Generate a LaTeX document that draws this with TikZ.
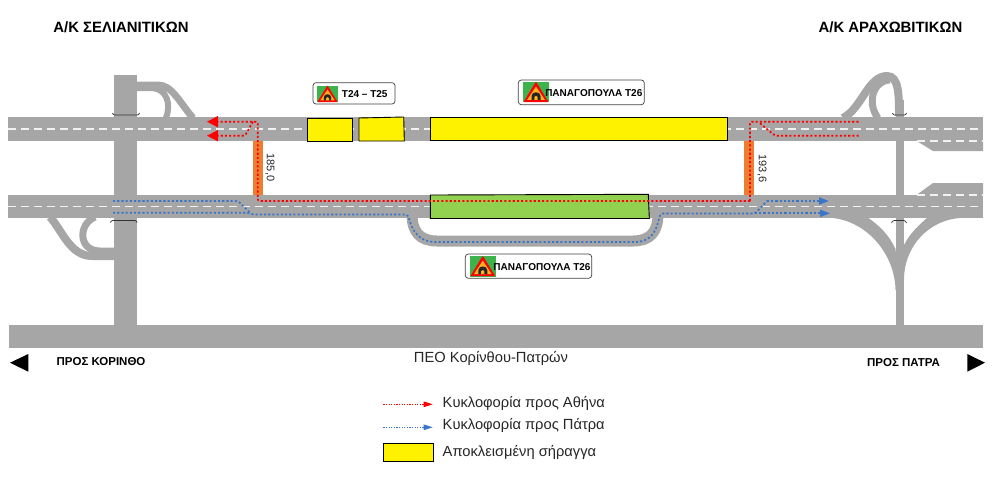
\documentclass[tikz,border=0pt]{standalone}
\usepackage{fontspec}
\setmainfont{Liberation Sans}
\usepackage{xcolor}
\usetikzlibrary{arrows.meta,calc,positioning}
\definecolor{roadgray}{HTML}{A6A6A6}
\definecolor{laneoff}{HTML}{F2F2F2}
\definecolor{closedgreen}{HTML}{92D050}
\definecolor{signgreen}{HTML}{3CB44B}
\definecolor{signamber}{HTML}{FFB020}
\definecolor{crossorange}{HTML}{ED7D31}
\definecolor{routered}{HTML}{FF0000}
\definecolor{routeblue}{HTML}{3A75C8}
\tikzset{
  lanemark/.style={draw=laneoff,line width=1.2pt,dash pattern=on 8pt off 5pt},
  ramp/.style={draw=roadgray,line cap=butt},
  bracket/.style={draw=black!80,line width=0.7pt,rounded corners=1pt},
  closedbox/.style={draw=black,line width=0.9pt,fill=yellow},
  redroute/.style={draw=routered,line width=1.7pt,dash pattern=on 2.1pt off 2.1pt,rounded corners=2pt},
  blueroute/.style={draw=routeblue,line width=1.7pt,dash pattern=on 2.1pt off 2.1pt,rounded corners=2pt},
  redtip/.style={-{Triangle[length=11pt,width=11pt,fill=routered,color=routered]}},
  bluetip/.style={-{Triangle[length=10pt,width=7pt,fill=routeblue,color=routeblue]}},
  signbox/.style={draw=black!75,line width=0.7pt,rounded corners=3pt,fill=white},
  signtext/.style={font=\bfseries\fontsize{10}{11}\selectfont,inner sep=0pt},
  headtext/.style={font=\bfseries\fontsize{14.9}{16}\selectfont,inner sep=0pt},
  dirtext/.style={font=\bfseries\fontsize{11.5}{13}\selectfont,inner sep=0pt},
  plaintext/.style={font=\fontsize{14.7}{16}\selectfont,inner sep=0pt,text=black!85},
  chainage/.style={font=\fontsize{11}{13}\selectfont,inner sep=0pt,rotate=-90,text=black!85},
  tunnelsign/.pic={
    \fill[signgreen] (-12.8,-10.3) rectangle (12.8,10.3);
    \fill[routered,rounded corners=1pt] (0,-10.5)--(12.5,10)--(-12.5,10)--cycle;
    \fill[signamber] (0,-5.5)--(8.8,7.8)--(-8.8,7.8)--cycle;
    \fill[black!85] (-4.5,7.8)--(-4.5,4) .. controls (-4.5,-1) and (4.5,-1) .. (4.5,4)--(4.5,7.8)--cycle;
    \fill[signamber] (-1.6,7.8)--(-1.6,5) .. controls (-1.6,3.5) and (1.6,3.5) .. (1.6,5)--(1.6,7.8)--cycle;
  }
}
\begin{document}
\begin{tikzpicture}[x=1pt,y=-1pt,>=Stealth]
\useasboundingbox (0,0) rectangle (996,491);
% cross roads
\fill[roadgray] (114,75) rectangle (137,325);
\fill[roadgray] (895.5,100) rectangle (904,325);
% ramps, left
\draw[ramp,line width=7pt] (137,85)--(158,85) .. controls (172,85) and (180,103) .. (193,118);
\draw[ramp,line width=6pt] (137,88)--(150,88) .. controls (168,88) and (171,105) .. (166,118);
\draw[ramp,line width=8pt] (50,217) .. controls (62,230) and (70,256) .. (92,256)--(114,256);
\draw[ramp,line width=7pt] (95,217) .. controls (78,224) and (78,251) .. (100,251)--(114,251);
\fill[roadgray] (100,250) rectangle (114,258);
% ramps, right
\draw[ramp,line width=8pt] (843,118) .. controls (862,108) and (868,76) .. (887,76) .. controls (899,76) and (899,95) .. (899,116);
\draw[ramp,line width=7pt] (878,118) .. controls (866,102) and (874,80) .. (890,80);
\fill[roadgray] (833,218) .. controls (868,222) and (895,255) .. (895.5,290)--(899.7,290)--(895.5,249) .. controls (889,235) and (880,226) .. (867,217)--cycle;
\fill[roadgray] (960,218) .. controls (930,220) and (904,245) .. (904,280)--(899.7,280)--(904,245) .. controls (910,233) and (919,225) .. (928,217)--cycle;
% bypass
\draw[ramp,line width=11pt] (412,214) .. controls (412,232) and (420,241) .. (437,241)--(633,241) .. controls (650,241) and (658,232) .. (658,214);
% main roads
\fill[roadgray] (7.5,117) rectangle (983,141);
\fill[roadgray] (7.5,195) rectangle (983,218);
\fill[roadgray] (8.5,325) rectangle (983,348);
\fill[roadgray] (915,140)--(933,151)--(983,151)--(983,140)--cycle;
\fill[roadgray] (915,196)--(933,183)--(983,183)--(983,196)--cycle;
% lane marks
\draw[lanemark] (8,129)--(983,129);
\draw[lanemark] (8,206.5)--(983,206.5);
\draw[lanemark] (917,141)--(983,141);
\draw[lanemark] (917,195)--(983,195);
% brackets
\draw[bracket] (112.5,113)--(113.5,115)--(138.5,115)--(139.5,113);
\draw[bracket] (110.5,222.5)--(111.5,220.5)--(136,220.5)--(137,222.5);
\draw[bracket] (892.5,113)--(893.5,115)--(905.5,115)--(906.5,113);
\draw[bracket] (891.5,223)--(893,220.5)--(905,220.5)--(906.5,223);
% crossovers
\fill[crossorange] (253.3,141) rectangle (263.3,195);
\fill[crossorange] (744,141) rectangle (754.3,195);
% closed tunnels
\draw[closedbox] (307,118)--(352,118)--(352,141)--(307,141)--cycle;
\draw[closedbox] (359,118)--(403.7,117)--(404.3,141)--(359,141)--cycle;
\draw[closedbox] (430.3,117.5)--(727.5,117.5)--(727.5,140.7)--(430.3,140.7)--cycle;
\draw[draw=black,line width=0.9pt,fill=closedgreen] (430.3,195)--(648.3,194.3)--(649.3,218.5)--(430.3,218.5)--cycle;
% red route
\coordinate (redC) at (860,121.7); \coordinate (redD) at (860,135.7);
\draw[redroute,redtip] (750,201)--(257.7,201)--(257.7,121.7)--(207,121.7);
\draw[redroute,redtip] (253,121.7)--(245,135.7)--(207,135.7);
\draw[redroute] (750,201)--(750,121.7)--(redC);
\draw[redroute] (760,123.3)--(775,135.7)--(redD);
% blue route
\coordinate (blueA) at (113,201); \coordinate (blueB) at (113,212.7);
\draw[blueroute] (blueA)--(238,201)--(250,212.7);
\draw[blueroute] (blueB)--(248,212.7)--(252,214.5)--(408,214.5)
  .. controls (412,232) and (420,242) .. (437,242)--(633,242) .. controls (650,242) and (656,232) .. (659,218)--(661,213.5)--(755,213.5)--(767,201);
\draw[blueroute,bluetip] (767,201)--(829,201);
\draw[blueroute,bluetip] (755,213.3)--(830,213.3);
% signs
\draw[signbox] (313,82.7) rectangle (395,104);
\pic[scale=0.82] at (327.5,94) {tunnelsign};
\node[signtext] (signA) at (364.7,94) {T24 – T25};
\draw[signbox] (518.3,80) rectangle (644.3,104.7);
\pic at (536,92) {tunnelsign};
\node[signtext] (signB) at (593.8,93) {ΠΑΝΑΓΟΠΟΥΛΑ T26};
\draw[signbox] (465.3,254) rectangle (591.7,278.3);
\pic at (482.8,266.2) {tunnelsign};
\node[signtext] (signC) at (542,266.7) {ΠΑΝΑΓΟΠΟΥΛΑ T26};
% labels
\node[headtext] (nodeWest) at (121,27) {Α/Κ ΣΕΛΙΑΝΙΤΙΚΩΝ};
\node[headtext] (nodeEast) at (890.5,27) {Α/Κ ΑΡΑΧΩΒΙΤΙΚΩΝ};
\node[chainage] (kmWest) at (270,167.5) {185,0};
\node[chainage] (kmEast) at (762,168.5) {193,6};
\node[dirtext] (toWest) at (101,362) {ΠΡΟΣ ΚΟΡΙΝΘΟ};
\node[dirtext] (toEast) at (903.5,363) {ΠΡΟΣ ΠΑΤΡΑ};
\node[plaintext] (motorway) at (491,358) {ΠΕΟ Κορίνθου-Πατρών};
\fill[black] (10,362.7)--(28.3,354)--(28.3,371.7)--cycle;
\fill[black] (985,362.7)--(967.3,354)--(967.3,371.7)--cycle;
% legend
\coordinate (legA) at (383.3,404.3); \coordinate (legB) at (432.7,404.3);
\coordinate (legC) at (383.3,427.3); \coordinate (legD) at (432.7,427.3);
\draw[draw=routered,line width=1pt,dash pattern=on 1.3pt off 1.3pt,-{Triangle[length=9pt,width=5.5pt,fill=routered,color=routered]}] (legA)--(legB);
\draw[draw=routeblue,line width=1pt,dash pattern=on 1.3pt off 1.3pt,-{Triangle[length=9pt,width=5.5pt,fill=routeblue,color=routeblue]}] (legC)--(legD);
\draw[closedbox] (383.3,443.7) rectangle (433.3,461.3);
\node[plaintext,anchor=west] (legRed) at (442.5,403.5) {Κυκλοφορία προς Αθήνα};
\node[plaintext,anchor=west] (legBlue) at (442.5,425) {Κυκλοφορία προς Πάτρα};
\node[plaintext,anchor=west] (legBox) at (442.5,452.5) {Αποκλεισμένη σήραγγα};
\end{tikzpicture}
\end{document}
